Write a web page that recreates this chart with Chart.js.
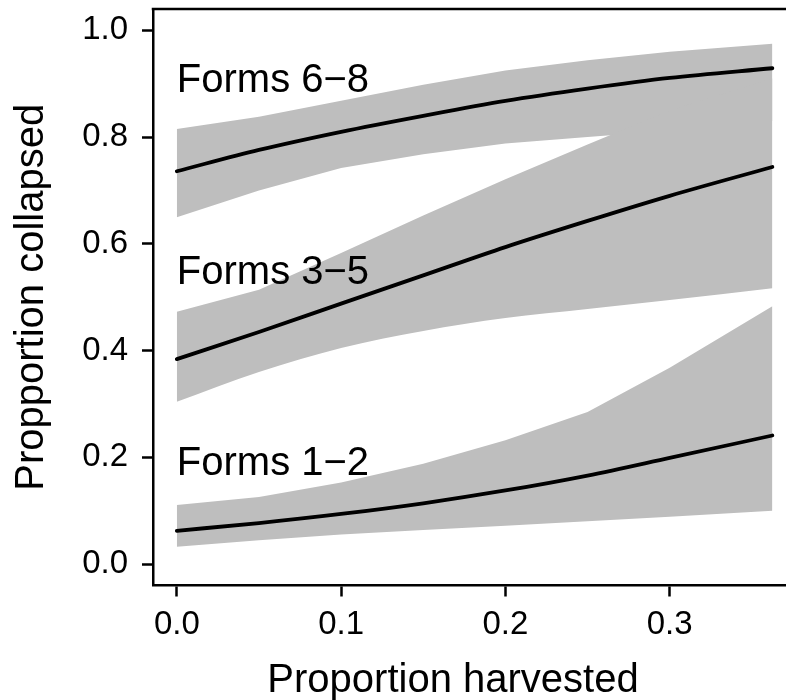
<!DOCTYPE html>
<html>
<head>
<meta charset="utf-8">
<script src="https://cdn.jsdelivr.net/npm/chart.js@4.4.1/dist/chart.umd.min.js"></script>
<style>
  html, body { margin: 0; padding: 0; background: #fff; }
  #wrap { width: 786px; height: 700px; }
</style>
</head>
<body>
<div id="wrap"><canvas id="chart" width="786" height="700"></canvas></div>
<script>
// proportion harvested (x) where the curves were read
const harvested = [0, 0.05, 0.1, 0.15, 0.2, 0.25, 0.3, 0.3625];

// Forms 1-2
const fit12 = [0.0625, 0.077, 0.094, 0.114, 0.138, 0.166, 0.199, 0.241];
const lo12  = [0.0325, 0.045, 0.0555, 0.064, 0.072, 0.0805, 0.089, 0.100];
const hi12  = [0.111, 0.126, 0.153, 0.188, 0.232, 0.285, 0.368, 0.483];
// Forms 3-5
const fit35 = [0.384, 0.435, 0.488, 0.541, 0.594, 0.643, 0.690, 0.744];
const lo35  = [0.304, 0.360, 0.405, 0.437, 0.461, 0.478, 0.495, 0.517];
const hi35  = [0.473, 0.514, 0.583, 0.653, 0.721, 0.786, 0.850, 0.910];
// Forms 6-8
const fit68 = [0.736, 0.776, 0.810, 0.840, 0.868, 0.891, 0.911, 0.929];
const lo68  = [0.650, 0.700, 0.742, 0.768, 0.788, 0.800, 0.812, 0.830];
const hi68  = [0.815, 0.838, 0.868, 0.898, 0.925, 0.944, 0.960, 0.975];

const xTicks = [0, 0.1, 0.2, 0.3];
const yTicks = [0, 0.2, 0.4, 0.6, 0.8, 1.0];
const groupNames = ["Forms 1−2", "Forms 3−5", "Forms 6−8"];
const groupLabelY = [0.194, 0.551, 0.910];

const FONT = "'Liberation Sans', Arial, Helvetica, sans-serif";
const BAND = "#bebebe";

const pts = arr => arr.map((y, i) => ({ x: harvested[i], y }));

const fitLine = data => ({
  data: pts(data), order: 0,
  borderColor: "#000", borderWidth: 3.8, borderCapStyle: "round",
  cubicInterpolationMode: "monotone", pointRadius: 0, fill: false
});
const bandEdge = (data, fillTo, smooth) => ({
  data: pts(data), order: 1,
  borderColor: "rgba(0,0,0,0)", borderWidth: 0, pointRadius: 0,
  cubicInterpolationMode: smooth ? "monotone" : "default", tension: 0,
  fill: fillTo === undefined ? false : fillTo,
  backgroundColor: BAND
});

const decor = {
  id: "decor",
  afterDraw(chart) {
    const { ctx, chartArea, scales: { x, y } } = chart;
    ctx.save();
    // top edge of the box
    ctx.strokeStyle = "#000";
    ctx.lineWidth = 2.5;
    ctx.beginPath();
    ctx.moveTo(chartArea.left - 1.25, chartArea.top);
    ctx.lineTo(chartArea.right, chartArea.top);
    ctx.stroke();

    ctx.fillStyle = "#000";
    ctx.font = "40px " + FONT;
    ctx.textAlign = "left";
    ctx.textBaseline = "alphabetic";
    groupNames.forEach((name, i) => {
      ctx.fillText(name, x.getPixelForValue(0), y.getPixelForValue(groupLabelY[i]) + 14);
    });

    ctx.textAlign = "center";
    ctx.fillText("Proportion harvested", chartArea.left + 300, 692);
    ctx.restore();
  }
};

new Chart(document.getElementById("chart"), {
  type: "line",
  data: {
    datasets: [
      fitLine(fit12), fitLine(fit35), fitLine(fit68),
      bandEdge(lo12), bandEdge(hi12, 3, false),
      bandEdge(lo35, undefined, true), bandEdge(hi35, 5, false),
      bandEdge(lo68), bandEdge(hi68, 7, false)
    ]
  },
  options: {
    responsive: false,
    animation: false,
    events: [],
    layout: { padding: { top: 9, right: 0, bottom: 0, left: 0 } },
    plugins: {
      legend: { display: false },
      tooltip: { enabled: false },
      filler: { drawTime: "beforeDatasetsDraw" }
    },
    scales: {
      x: {
        type: "linear", min: -0.0145, max: 0.3708,
        afterBuildTicks: s => { s.ticks = xTicks.map(v => ({ value: v })); },
        afterFit: s => { s.height = 114.5; s.paddingLeft = 0; s.paddingRight = 0; },
        grid: { drawOnChartArea: false, drawTicks: true, tickLength: 11, tickWidth: 2.5, tickColor: "#000" },
        border: { display: true, color: "#000", width: 2.5 },
        ticks: {
          color: "#000", padding: 9, maxRotation: 0, autoSkip: false,
          font: { family: FONT, size: 33 },
          callback: v => v.toFixed(1)
        }
      },
      y: {
        type: "linear", min: -0.04, max: 1.04,
        afterBuildTicks: s => { s.ticks = yTicks.map(v => ({ value: v })); },
        afterFit: s => { s.width = 153; s.paddingTop = 0; s.paddingBottom = 0; },
        grid: { drawOnChartArea: false, drawTicks: true, tickLength: 11, tickWidth: 2.5, tickColor: "#000" },
        border: { display: true, color: "#000", width: 2.5 },
        ticks: {
          color: "#000", padding: 14, autoSkip: false,
          font: { family: FONT, size: 33 },
          callback: v => v.toFixed(1)
        },
        title: {
          display: true, text: "Propportion collapsed", color: "#000",
          font: { family: FONT, size: 40 },
          padding: { top: 7.5, bottom: 0 }
        }
      }
    }
  },
  plugins: [decor]
});
</script>
</body>
</html>
